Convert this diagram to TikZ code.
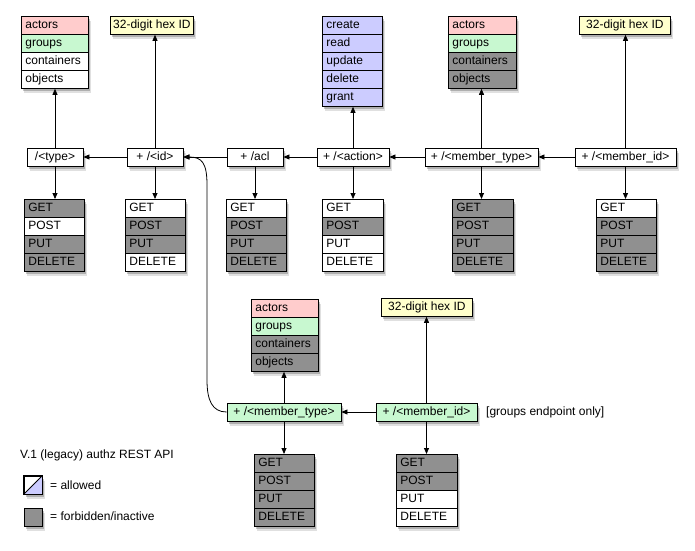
\documentclass[tikz,border=0pt]{standalone}
\usepackage{fontspec}
\setmainfont{Liberation Sans}
\usetikzlibrary{arrows.meta,shadows}
\definecolor{cp}{HTML}{FFCCCC}
\definecolor{cg}{HTML}{C8F8D0}
\definecolor{cpu}{HTML}{CCCCFF}
\definecolor{cy}{HTML}{FFFFCC}
\definecolor{cgr}{HTML}{909090}
\tikzset{
  sh/.style={general shadow={shadow xshift=1.5pt,shadow yshift=-2.5pt,opacity=0.22,fill=black},
             general shadow={shadow xshift=2.5pt,shadow yshift=-4.5pt,opacity=0.12,fill=black}},
  txt/.style={font=\fontsize{12}{14}\selectfont, text height=9pt, text depth=2.5pt},
  boxbg/.style={draw=black, line width=0.8pt, fill=white, anchor=north west, inner sep=0pt, sh},
  rowcell/.style={draw=black, line width=0.8pt, minimum height=18pt, inner xsep=4pt, inner ysep=0pt,
                  align=left, anchor=north west, txt},
  pathnode/.style={draw=black, line width=0.8pt, fill=white, minimum height=18pt, inner xsep=2pt,
                   inner ysep=0pt, txt, sh},
  greennode/.style={pathnode, fill=cg},
  hexbox/.style={draw=black, line width=0.8pt, fill=cy, minimum height=18pt, inner xsep=2pt,
                 inner ysep=0pt, anchor=north west, txt, sh},
  iconbox/.style={draw=black, line width=0.8pt, minimum size=18pt, inner sep=0pt, sh},
  plain/.style={txt, inner sep=0pt, anchor=west},
  arr/.style={-{Triangle[length=6pt,width=5pt]}, line width=0.8pt, draw=black},
}
\newcommand{\mklist}[6]{%
  \pgfmathsetmacro{\lbw}{#4-8}%
  \pgfmathsetmacro{\lbh}{18*#5}%
  \node[boxbg, minimum width=#4pt, minimum height=\lbh pt] (#1) at (#2,#3) {};%
  \foreach \c/\t [count=\i from 0] in {#6} {%
    \node[rowcell, fill=\c, text width=\lbw pt] (#1-\i) at (#2, #3+18*\i) {\t};%
  }%
}
\begin{document}
\begin{tikzpicture}[x=1pt,y=-1pt]
\useasboundingbox (0,0) rectangle (695,550);
% top targets
\mklist{tA}{21}{16}{67}{4}{cp/actors, cg/groups, white/containers, white/objects}
\node[hexbox, minimum width=83pt] (h1) at (110,16) {32-digit hex ID};
\mklist{tC}{322}{16}{60}{5}{cpu/create, cpu/read, cpu/update, cpu/delete, cpu/grant}
\mklist{tB}{448}{16}{68}{4}{cp/actors, cg/groups, cgr/containers, cgr/objects}
\node[hexbox, minimum width=91pt] (h2) at (579,16) {32-digit hex ID};
% path nodes
\node[pathnode, minimum width=56pt] (type) at (55,157) {/<type>};
\node[pathnode, minimum width=56pt] (id) at (155,157) {+ /<id>};
\node[pathnode, minimum width=56pt] (acl) at (255,157) {+ /acl};
\node[pathnode, minimum width=72pt] (action) at (353,157) {+ /<action>};
\node[pathnode, minimum width=113pt] (mt) at (481.5,157) {+ /<member\_type>};
\node[pathnode, minimum width=101pt] (mi) at (625.5,157) {+ /<member\_id>};
% methods
\mklist{mA}{24}{199}{60}{4}{cgr/GET, white/POST, cgr/PUT, cgr/DELETE}
\mklist{mB}{125}{199}{60}{4}{white/GET, cgr/POST, cgr/PUT, white/DELETE}
\mklist{mC}{226}{199}{60}{4}{white/GET, cgr/POST, cgr/PUT, cgr/DELETE}
\mklist{mD}{322}{199}{61}{4}{white/GET, cgr/POST, white/PUT, white/DELETE}
\mklist{mE}{452}{199}{61}{4}{cgr/GET, cgr/POST, cgr/PUT, cgr/DELETE}
\mklist{mF}{596}{199}{60}{4}{white/GET, cgr/POST, cgr/PUT, cgr/DELETE}
% bottom
\mklist{tD}{251}{299}{67}{4}{cp/actors, cg/groups, cgr/containers, cgr/objects}
\node[hexbox, minimum width=91pt] (h3) at (381,298) {32-digit hex ID};
\node[greennode, minimum width=114pt] (gmt) at (284,412) {+ /<member\_type>};
\node[greennode, minimum width=101pt] (gmi) at (426.5,412) {+ /<member\_id>};
\node[plain] (gnote) at (486,412) {[groups endpoint only]};
\mklist{mG}{254}{454}{60}{4}{cgr/GET, cgr/POST, cgr/PUT, cgr/DELETE}
\mklist{mH}{396}{454}{61}{4}{cgr/GET, cgr/POST, white/PUT, white/DELETE}
% horizontal connectors
\draw[arr] (id.west) -- (type.east);
\draw[arr] (acl.west) -- (id.east);
\draw[arr] (action.west) -- (acl.east);
\draw[arr] (mt.west) -- (action.east);
\draw[arr] (mi.west) -- (mt.east);
\draw[arr] (gmi.west) -- (gmt.east);
% up connectors
\draw[arr] (type.north) -- (type.north |- tA.south);
\draw[arr] (id.north) -- (id.north |- h1.south);
\draw[arr] (action.north) -- (action.north |- tC.south);
\draw[arr] (mt.north) -- (mt.north |- tB.south);
\draw[arr] (mi.north) -- (mi.north |- h2.south);
\draw[arr] (gmt.north) -- (gmt.north |- tD.south);
\draw[arr] (gmi.north) -- (gmi.north |- h3.south);
% down connectors
\draw[arr] (type.south) -- (type.south |- mA.north);
\draw[arr] (id.south) -- (id.south |- mB.north);
\draw[arr] (acl.south) -- (acl.south |- mC.north);
\draw[arr] (action.south) -- (action.south |- mD.north);
\draw[arr] (mt.south) -- (mt.south |- mE.north);
\draw[arr] (mi.south) -- (mi.south |- mF.north);
\draw[arr] (gmt.south) -- (gmt.south |- mG.north);
\draw[arr] (gmi.south) -- (gmi.south |- mH.north);
% curved connector
\draw[arr] (gmt.west) .. controls (212,412) and (207,400) .. (207,380) -- (207,185)
  .. controls (207,163) and (202,157) .. (id.east);
% legend
\node[plain] (ltitle) at (20,455) {V.1 (legacy) authz REST API};
\node[iconbox, fill=white] (allowed) at (33,485) {};
\fill[cpu] (allowed.south west) -- (allowed.south east) -- (allowed.north east) -- cycle;
\draw[line width=0.8pt] (allowed.south west) -- (allowed.north east);
\draw[line width=0.8pt] (allowed.south west) rectangle (allowed.north east);
\node[plain] (lallowed) at (50,486) {= allowed};
\node[iconbox, fill=cgr] (forb) at (33,517.5) {};
\node[plain] (lforb) at (50,517) {= forbidden/inactive};
\end{tikzpicture}
\end{document}
